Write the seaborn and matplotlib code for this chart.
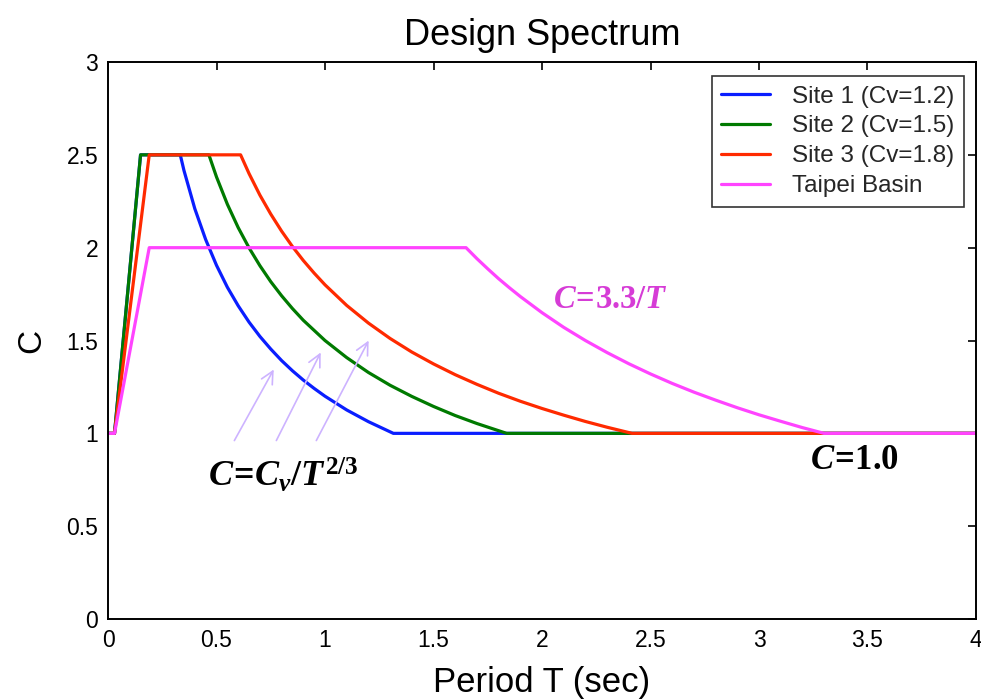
import matplotlib
matplotlib.use("Agg")
import matplotlib.pyplot as plt
import seaborn as sns
import pandas as pd
from matplotlib import font_manager

# ---- data ----
site1_T = [0.0, 0.03, 0.15, 0.333, 0.35, 0.4, 0.45, 0.5, 0.55, 0.6, 0.65, 0.7, 0.75, 0.8, 0.85, 0.9, 0.95, 1.0, 1.1, 1.2, 1.315, 4.0]
site1_C = [1.0, 1.0, 2.5, 2.5, 2.416, 2.21, 2.044, 1.905, 1.787, 1.687, 1.599, 1.522, 1.454, 1.392, 1.337, 1.287, 1.242, 1.2, 1.126, 1.063, 1.0, 1.0]

site2_T = [0.0, 0.03, 0.15, 0.465, 0.5, 0.55, 0.6, 0.65, 0.7, 0.75, 0.8, 0.85, 0.9, 1.0, 1.1, 1.2, 1.3, 1.4, 1.5, 1.6, 1.7, 1.837, 4.0]
site2_C = [1.0, 1.0, 2.5, 2.5, 2.381, 2.234, 2.108, 1.999, 1.903, 1.817, 1.741, 1.672, 1.609, 1.5, 1.408, 1.328, 1.259, 1.199, 1.145, 1.096, 1.053, 1.0, 1.0]

site3_T = [0.0, 0.03, 0.19, 0.611, 0.65, 0.7, 0.75, 0.8, 0.85, 0.9, 0.95, 1.0, 1.1, 1.2, 1.3, 1.4, 1.5, 1.6, 1.7, 1.8, 1.9, 2.0, 2.1, 2.2, 2.3, 2.415, 4.0]
site3_C = [1.0, 1.0, 2.5, 2.5, 2.399, 2.283, 2.181, 2.089, 2.006, 1.931, 1.863, 1.8, 1.689, 1.594, 1.511, 1.438, 1.374, 1.316, 1.264, 1.216, 1.173, 1.134, 1.098, 1.064, 1.033, 1.0, 1.0]

taipei_T = [0.0, 0.03, 0.19, 1.65, 1.7, 1.75, 1.8, 1.85, 1.9, 2.0, 2.1, 2.2, 2.3, 2.4, 2.5, 2.6, 2.7, 2.8, 2.9, 3.0, 3.1, 3.2, 3.3, 4.0]
taipei_C = [1.0, 1.0, 2.0, 2.0, 1.941, 1.886, 1.833, 1.784, 1.737, 1.65, 1.571, 1.5, 1.435, 1.375, 1.32, 1.269, 1.222, 1.179, 1.138, 1.1, 1.065, 1.031, 1.0, 1.0]

series_names = ["Site 1 (Cv=1.2)", "Site 2 (Cv=1.5)", "Site 3 (Cv=1.8)", "Taipei Basin"]
series_colors = ["#0A1EFF", "#007A00", "#FF2A00", "#FF44FF"]

x_ticks = [0, 0.5, 1, 1.5, 2, 2.5, 3, 3.5, 4]
x_tick_labels = ["0", "0.5", "1", "1.5", "2", "2.5", "3", "3.5", "4"]
y_ticks = [0, 0.5, 1, 1.5, 2, 2.5, 3]
y_tick_labels = ["0", "0.5", "1", "1.5", "2", "2.5", "3"]

# ---- build table ----
frames = []
for name, T, C in zip(series_names,
                      [site1_T, site2_T, site3_T, taipei_T],
                      [site1_C, site2_C, site3_C, taipei_C]):
    d = pd.DataFrame({"T": T, "C": C})
    d["series"] = name
    frames.append(d)
df = pd.concat(frames, ignore_index=True)

sns.set_theme(style="white")
avail = {f.name for f in font_manager.fontManager.ttflist}
sans = "Liberation Sans Narrow" if "Liberation Sans Narrow" in avail else "Liberation Sans"
plt.rcParams["font.family"] = [sans, "DejaVu Sans"]
plt.rcParams["mathtext.fontset"] = "custom"
plt.rcParams["mathtext.it"] = "Liberation Serif:bold:italic"
plt.rcParams["mathtext.rm"] = "Liberation Serif:bold"
plt.rcParams["mathtext.bf"] = "Liberation Serif:bold"

fig = plt.figure(figsize=(9.81, 6.99), dpi=100)
ax = fig.add_axes([0.1101, 0.1144, 0.8848, 0.7969])

sns.lineplot(data=df, x="T", y="C", hue="series", hue_order=series_names,
             palette=series_colors, sort=False, estimator=None, units="series",
             linewidth=2.3, ax=ax, legend=True)

ax.set_xlim(0, 4)
ax.set_ylim(0, 3)
ax.set_xticks(x_ticks)
ax.set_xticklabels(x_tick_labels)
ax.set_yticks(y_ticks)
ax.set_yticklabels(y_tick_labels)
ax.tick_params(direction="in", length=6, width=1.2, top=True, right=True,
               labelsize=16.5, colors="black", pad=7)
for s in ax.spines.values():
    s.set_color("black")
    s.set_linewidth(1.4)

ax.set_title("Design Spectrum", fontsize=26, pad=12, color="black")
ax.set_xlabel("Period T (sec)", fontsize=25, labelpad=10, color="black")
ax.set_ylabel("C", fontsize=24, labelpad=14, color="black")

leg = ax.legend(loc="upper right", bbox_to_anchor=(0.986, 0.975), fontsize=17.5,
                frameon=True, fancybox=False, edgecolor="black", borderaxespad=0,
                handlelength=2.0, labelspacing=0.32, borderpad=0.4, handletextpad=0.9)
leg.get_frame().set_linewidth(1.2)
for line in leg.get_lines():
    line.set_linewidth(2.3)

# annotations
arrow_kw = dict(arrowstyle="->", color="#CDB3FF", lw=1.2, mutation_scale=22)
ax.annotate("", xy=(0.770, 1.357), xytext=(0.576, 0.948), arrowprops=arrow_kw)
ax.annotate("", xy=(0.986, 1.449), xytext=(0.770, 0.948), arrowprops=arrow_kw)
ax.annotate("", xy=(1.207, 1.513), xytext=(0.954, 0.948), arrowprops=arrow_kw)

ax.text(0.461, 0.77, r"$C\!=\!C_v/T^{2/3}$", fontsize=26, color="black",
        ha="left", va="center")
ax.text(2.05, 1.72, r"$C\!=\!3.3/T$", fontsize=23.5, color="#D63CD6",
        ha="left", va="center")
ax.text(3.235, 0.86, r"$C\!=\!1.0$", fontsize=25, color="black",
        ha="left", va="center")

fig.savefig("out.png", dpi=100, facecolor="white")
